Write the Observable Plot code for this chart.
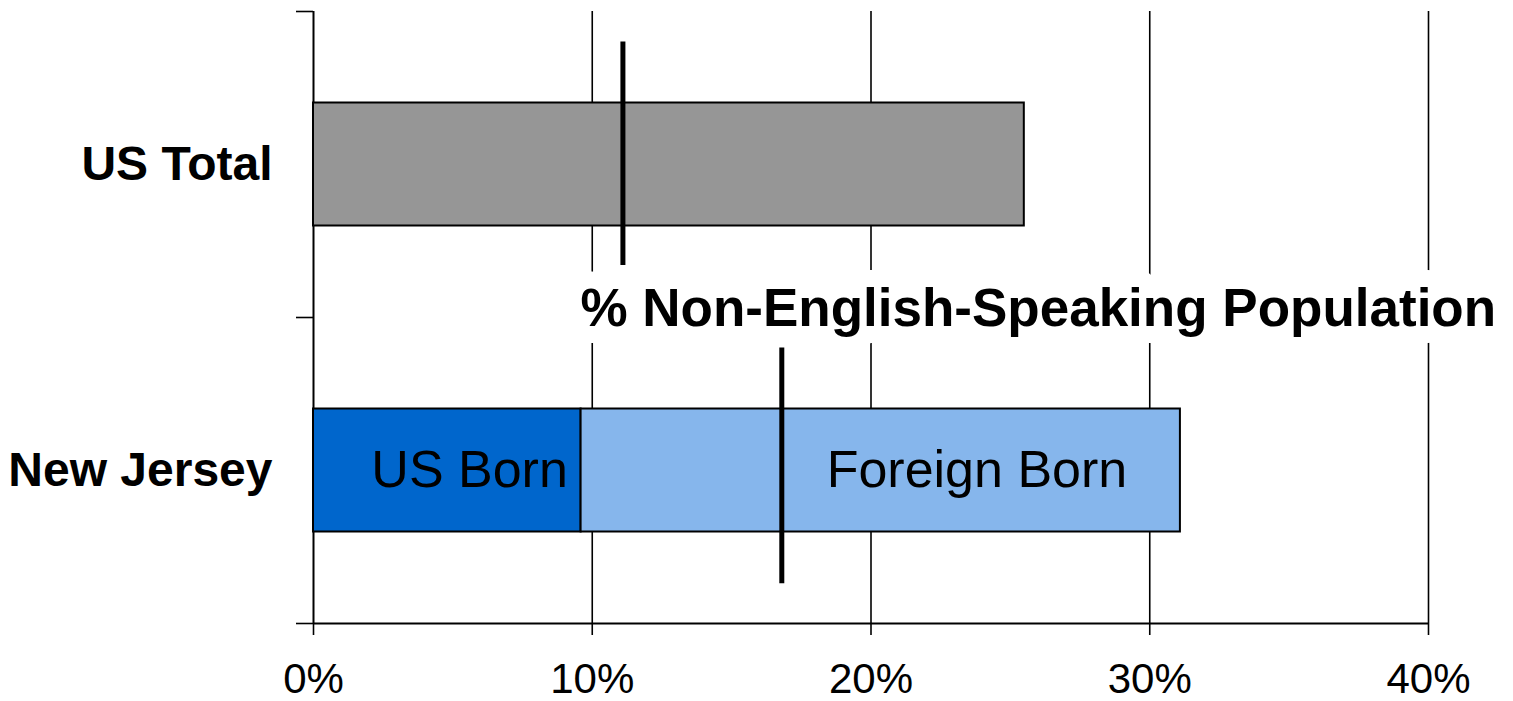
<!DOCTYPE html>
<html>
<head>
<meta charset="utf-8">
<script src="https://cdn.jsdelivr.net/npm/d3@7"></script>
<script src="https://cdn.jsdelivr.net/npm/@observablehq/plot@0.6"></script>
<style>
  html, body { margin: 0; padding: 0; background: #fff; }
</style>
</head>
<body>
<div id="chart"></div>
<script>
// ---- data ----
const categories = ["US Total", "New Jersey"];
const segCategory = ["US Total", "New Jersey", "New Jersey"];
const segSeries = ["Total", "US Born", "Foreign Born"];
const segStart = [0, 0, 9.6];
const segEnd = [25.5, 9.6, 31.1];
const segLabel = ["", "US Born", "Foreign Born"];
const segLabelX = [null, 5.6, 23.8];

const markerCategory = ["US Total", "New Jersey"];
const markerValue = [11.1, 16.8];      // % non-English-speaking population
const markerTop = [0.10, 0.10];        // fraction of band
const markerBottom = [0.83, 0.87];

const xTicks = [0, 10, 20, 30, 40];
const titleText = "% Non-English-Speaking Population";
const titleX = 26.0;

// ---- styles ----
const seriesFill = {"Total": "#969696", "US Born": "#0066CC", "Foreign Born": "#86b6ec"};
const FONT = "'Liberation Sans', Arial, Helvetica, sans-serif";

// ---- tables ----
const idx = c => categories.indexOf(c);
const segments = segCategory.map((c, i) => ({
  y1: idx(c), y2: idx(c) + 1, x1: segStart[i], x2: segEnd[i], series: segSeries[i],
  fill: seriesFill[segSeries[i]], label: segLabel[i], lx: segLabelX[i], ly: idx(c) + 0.5
}));
const markers = markerCategory.map((c, i) => ({
  x: markerValue[i], y1: idx(c) + markerTop[i], y2: idx(c) + markerBottom[i]
}));
const catRows = categories.map((c, i) => ({name: c, y: i + 0.5}));

const plot = Plot.plot({
  width: 1513,
  height: 701,
  marginLeft: 313,
  marginRight: 85,
  marginTop: 11,
  marginBottom: 78,
  style: {fontFamily: FONT, background: "#fff", color: "#000", overflow: "visible"},
  x: {domain: [0, 40], label: null},
  y: {domain: [0, categories.length], reverse: true, label: null},
  color: {type: "identity"},
  marks: [
    Plot.gridX(xTicks.filter(d => d > 0), {stroke: "#000", strokeOpacity: 1, strokeWidth: 1.6}),
    Plot.axisX({ticks: xTicks, tickFormat: d => d + "%", tickSize: 12, tickPadding: 28,
                fontSize: 42, stroke: "#000", strokeWidth: 1.6, label: null}),
    Plot.axisY({ticks: d3.range(categories.length + 1), tickSize: 17, tickFormat: () => "",
                stroke: "#000", strokeWidth: 1.6, label: null}),
    Plot.ruleY([categories.length], {stroke: "#000", strokeWidth: 2}),
    Plot.ruleX([0], {stroke: "#000", strokeWidth: 2}),
    Plot.text([titleText], {x: titleX, y: 1, text: d => d, fontSize: 53, fontWeight: "bold",
               textAnchor: "middle", lineAnchor: "middle", dy: -8.5, fill: "#000",
               stroke: "#fff", strokeWidth: 34, strokeLinejoin: "round"}),
    Plot.rect(segments, {x1: "x1", x2: "x2", y1: "y1", y2: "y2", fill: "fill",
               stroke: "#000", strokeWidth: 2, insetTop: 91.5, insetBottom: 91.5}),
    Plot.text(segments.filter(d => d.label), {x: "lx", y: "ly", text: "label", fontSize: 52,
               textAnchor: "middle", lineAnchor: "middle", fill: "#000"}),
    Plot.ruleX(markers, {x: "x", y1: "y1", y2: "y2", stroke: "#000", strokeWidth: 5}),
    Plot.text(catRows, {x: 0, y: "y", text: "name", fontSize: 48, fontWeight: "bold",
               textAnchor: "end", lineAnchor: "middle", dx: -41, fill: "#000"})
  ]
});

document.getElementById("chart").appendChild(plot);
</script>
</body>
</html>
